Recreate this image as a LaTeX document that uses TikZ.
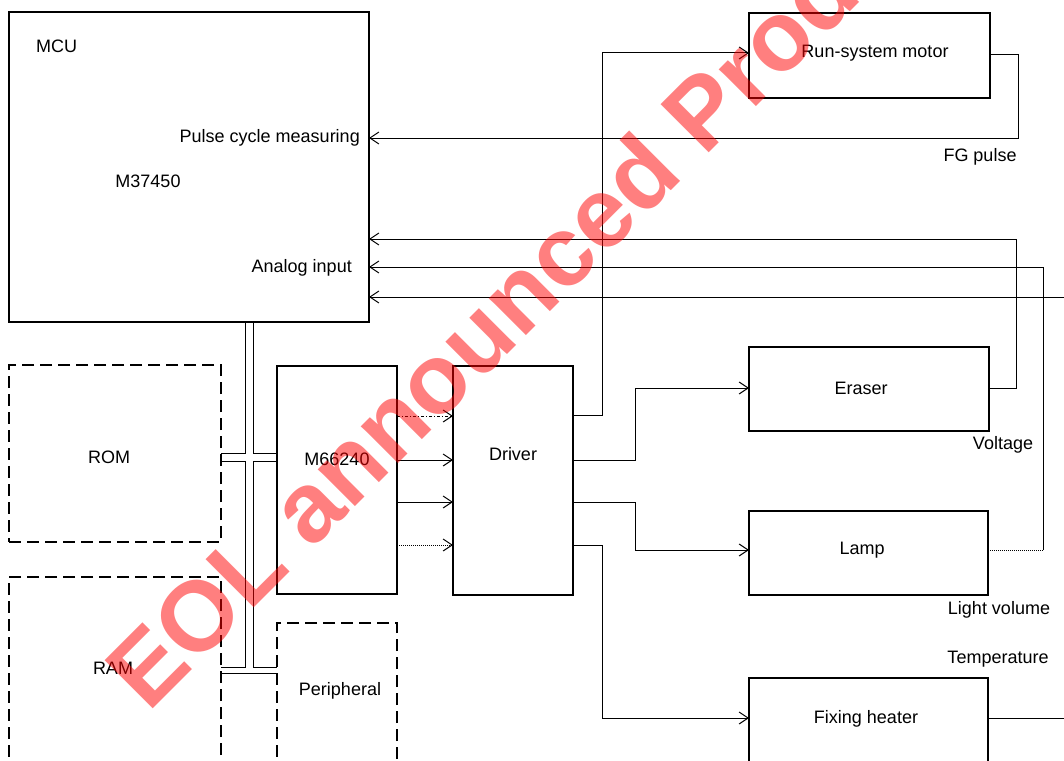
\documentclass[tikz,border=0pt]{standalone}
\usepackage{fontspec}
\setmainfont{Liberation Sans}
\usetikzlibrary{arrows.meta,calc}
\begin{document}
\begin{tikzpicture}[x=1pt,y=-1pt,
  blk/.style={draw,line width=2.2pt,inner sep=0pt,outer sep=0pt,anchor=north west},
  dblk/.style={draw,line width=1.2pt,dash pattern=on 12pt off 6pt,inner sep=0pt,outer sep=0pt,anchor=north west},
  wire/.style={line width=1pt},
  arr/.style={wire,-{Straight Barb[length=9pt,width=12pt]}},
  lbl/.style={font=\fontsize{18}{21}\selectfont,inner sep=0pt},
  wm/.style={text=red,opacity=0.5,font=\bfseries\fontsize{99}{100}\selectfont,inner sep=0pt}
]
\useasboundingbox (0,0) rectangle (1064,760);
\clip (0,0) rectangle (1064,760);
\fill[white] (0,0) rectangle (1064,760);

% blocks
\node[blk,minimum width=360pt,minimum height=310pt] (mcu) at (9,12) {};
\node[lbl,anchor=west] (mcut) at (36,46) {MCU};
\node[lbl] (mcun) at (148,181) {M37450};
\node[lbl,anchor=east] (pcm) at (360,138) {Pulse cycle measuring};
\node[lbl,anchor=east] (ain) at (352,268) {Analog input};

\node[blk,minimum width=241pt,minimum height=85pt] (mot) at (749,13) {};
\node[lbl] (mott) at (875,53) {Run-system motor};
\node[blk,minimum width=240pt,minimum height=84pt] (era) at (749,347) {};
\node[lbl] (erat) at (861,388) {Eraser};
\node[blk,minimum width=239pt,minimum height=84pt] (lamp) at (749,511) {};
\node[lbl] (lampt) at (862,550) {Lamp};
\node[blk,minimum width=239pt,minimum height=110pt] (heat) at (749,678) {};
\node[lbl] (heatt) at (866,719) {Fixing heater};

\node[blk,minimum width=120pt,minimum height=229pt] (drv) at (453,366) {};
\node[lbl] (drvt) at (513,454) {Driver};
\node[blk,minimum width=120pt,minimum height=228pt] (m66) at (277,366) {};
\node[lbl] (m66t) at (337,459) {M66240};

\node[dblk,minimum width=212pt,minimum height=177pt] (rom) at (9,365) {};
\node[lbl] (romt) at (109,457) {ROM};
\node[dblk,minimum width=212pt,minimum height=200pt] (ram) at (9,577) {};
\node[lbl] (ramt) at (113,668) {RAM};
\node[dblk,minimum width=120pt,minimum height=160pt] (per) at (277,623) {};
\node[lbl] (pert) at (340,691) {Peripheral};

% labels
\node[lbl] (fg) at (980,157) {FG pulse};
\node[lbl] (volt) at (1003,445) {Voltage};
\node[lbl] (lv) at (999,610) {Light volume};
\node[lbl] (temp) at (998,659) {Temperature};

% bus
\coordinate (bl) at (245,0);
\coordinate (br) at (253,0);
\coordinate (ya) at (0,453);
\coordinate (yb) at (0,461);
\coordinate (yc) at (0,667);
\coordinate (yd) at (0,673);
\draw[wire] (mcu.south -| bl) -- (bl |- ya) -- (rom.east |- ya);
\draw[wire] (mcu.south -| br) -- (br |- ya) -- (m66.west |- ya);
\draw[wire] (rom.east |- yb) -- (bl |- yb) -- (bl |- yc) -- (ram.east |- yc);
\draw[wire] (m66.west |- yb) -- (br |- yb) -- (br |- yc) -- (per.west |- yc);
\draw[wire] (ram.east |- yd) -- (per.west |- yd);

% M66240 -> Driver
\draw[arr,dash dot] ($(m66.north east)+(0,50)$) -- ($(drv.north west)+(0,50)$);
\draw[arr] ($(m66.north east)+(0,94)$) -- ($(drv.north west)+(0,94)$);
\draw[arr] ($(m66.north east)+(0,136)$) -- ($(drv.north west)+(0,136)$);
\draw[arr,densely dotted] ($(m66.north east)+(0,179)$) -- ($(drv.north west)+(0,179)$);

% Driver outputs
\coordinate (xa) at (602,0);
\coordinate (xb) at (635,0);
\coordinate (d1) at ($(drv.north east)+(0,49)$);
\coordinate (d2) at ($(drv.north east)+(0,94)$);
\coordinate (d3) at ($(drv.north east)+(0,136)$);
\coordinate (d4) at ($(drv.north east)+(0,179)$);
\coordinate (mi) at ($(mot.north west)+(0,40)$);
\coordinate (ei) at ($(era.north west)+(0,41)$);
\coordinate (li) at ($(lamp.north west)+(0,39)$);
\coordinate (hi) at ($(heat.north west)+(0,40)$);
\draw[arr] (d1) -- (xa |- d1) -- (xa |- mi) -- (mi);
\draw[arr] (d2) -- (xb |- d2) -- (xb |- ei) -- (ei);
\draw[arr] (d3) -- (xb |- d3) -- (xb |- li) -- (li);
\draw[arr] (d4) -- (xa |- d4) -- (xa |- hi) -- (hi);

% feedback to MCU
\coordinate (f1) at (1018,0);
\coordinate (f2) at (1016,0);
\coordinate (f3) at (1043,0);
\coordinate (f4) at (1085,0);
\coordinate (m1) at (0,138);
\coordinate (m2) at (0,239);
\coordinate (m3) at (0,267);
\coordinate (m4) at (0,297);
\coordinate (mo) at ($(mot.north east)+(0,42)$);
\coordinate (eo) at ($(era.north east)+(0,41)$);
\coordinate (lo) at ($(lamp.north east)+(0,39)$);
\coordinate (ho) at ($(heat.north east)+(0,40)$);
\draw[arr] (mo) -- (f1 |- mo) -- (f1 |- m1) -- (mcu.east |- m1);
\draw[arr] (eo) -- (f2 |- eo) -- (f2 |- m2) -- (mcu.east |- m2);
\draw[wire,densely dotted] (lo) -- (f3 |- lo);
\draw[arr] (f3 |- lo) -- (f3 |- m3) -- (mcu.east |- m3);
\draw[arr] (ho) -- (f4 |- ho) -- (f4 |- m4) -- (mcu.east |- m4);

% watermark
\node[wm,rotate=45,anchor=base west] (wmark) at (148,714) {EOL announced Product};
\end{tikzpicture}
\end{document}
